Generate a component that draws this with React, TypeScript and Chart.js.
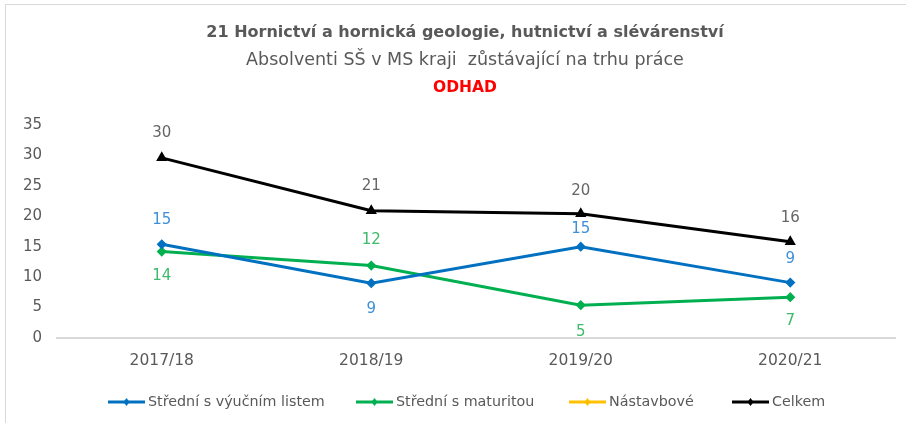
import React, { useEffect, useRef } from "react";
import { Chart, registerables } from "chart.js";

Chart.register(...registerables);

// ---- data ----
const categories = ["2017/18", "2018/19", "2019/20", "2020/21"];
const vyucni = [15.4, 9.0, 15.0, 9.1];
const maturita = [14.2, 11.9, 5.4, 6.7];
const nastavbove: (number | null)[] = [null, null, null, null];
const celkem = [29.6, 20.9, 20.4, 15.8];
const seriesNames = ["Střední s výučním listem", "Střední s maturitou", "Nástavbové", "Celkem"];
const yMin = 0;
const yMax = 35;
const yStep = 5;
const titleText = "21 Hornictví a hornická geologie, hutnictví a slévárenství";
const subtitleText = "Absolventi SŠ v MS kraji  zůstávající na trhu práce";
const noteText = "ODHAD";

// ---- styles ----
const FONT = "'DejaVu Sans', sans-serif";
const lineColors = ["#0070C0", "#00B050", "#FFC000", "#000000"];
const labelColors = ["#3F8FD8", "#3DBA6A", "#E0A800", "#666666"];
const pointStyles = ["rectRot", "rectRot", "rectRot", "triangle"];
const labelOffsets = [
  [-24, 26, -18, -24],
  [25, -25, 27, 24],
  [0, 0, 0, 0],
  [-25, -25, -23, -24],
];
const legendX = [108, 356, 569, 732];
const legendY = 402;

const labelsPlugin = {
  id: "pointLabels",
  afterDatasetsDraw(chart: any) {
    const ctx = chart.ctx;
    ctx.save();
    ctx.font = `15px ${FONT}`;
    ctx.textAlign = "center";
    ctx.textBaseline = "middle";
    chart.data.datasets.forEach((ds: any, di: number) => {
      const meta = chart.getDatasetMeta(di);
      meta.data.forEach((pt: any, i: number) => {
        const v = ds.data[i];
        if (v === null || v === undefined) return;
        ctx.fillStyle = labelColors[di];
        ctx.fillText(String(Math.round(v)), pt.x, pt.y + labelOffsets[di][i]);
      });
    });
    ctx.restore();
  },
};

const titlePlugin = {
  id: "titles",
  afterDraw(chart: any) {
    const ctx = chart.ctx;
    const cx = 465;
    ctx.save();
    ctx.textAlign = "center";
    ctx.textBaseline = "middle";
    ctx.fillStyle = "#595959";
    ctx.font = `bold 16px ${FONT}`;
    ctx.fillText(titleText, cx, 33);
    ctx.font = `17.5px ${FONT}`;
    ctx.fillText(subtitleText, cx, 60);
    ctx.fillStyle = "#FF0000";
    ctx.font = `bold 15.5px ${FONT}`;
    ctx.fillText(noteText, cx, 88);
    ctx.restore();
  },
};

const legendPlugin = {
  id: "customLegend",
  afterDraw(chart: any) {
    const ctx = chart.ctx;
    ctx.save();
    ctx.font = `14.3px ${FONT}`;
    ctx.textBaseline = "middle";
    ctx.textAlign = "left";
    seriesNames.forEach((name, i) => {
      const x = legendX[i];
      ctx.strokeStyle = lineColors[i];
      ctx.lineWidth = 3;
      ctx.beginPath();
      ctx.moveTo(x, legendY);
      ctx.lineTo(x + 37, legendY);
      ctx.stroke();
      ctx.fillStyle = lineColors[i];
      const mx = x + 18.5;
      ctx.beginPath();
      ctx.moveTo(mx, legendY - 4);
      ctx.lineTo(mx + 3, legendY);
      ctx.lineTo(mx, legendY + 4);
      ctx.lineTo(mx - 3, legendY);
      ctx.closePath();
      ctx.fill();
      ctx.fillStyle = "#595959";
      ctx.fillText(name, x + 40, legendY);
    });
    ctx.restore();
  },
};

export default function App() {
  const ref = useRef<HTMLCanvasElement | null>(null);

  useEffect(() => {
    if (!ref.current) return;
    const allData = [vyucni, maturita, nastavbove, celkem];
    const chart = new Chart(ref.current, {
      type: "line",
      data: {
        labels: categories,
        datasets: allData.map((d, i) => ({
          label: seriesNames[i],
          data: d,
          borderColor: lineColors[i],
          backgroundColor: lineColors[i],
          pointBackgroundColor: lineColors[i],
          pointBorderColor: lineColors[i],
          pointStyle: pointStyles[i] as any,
          pointRadius: i === 3 ? 3.5 : 3,
          borderWidth: 3,
          tension: 0,
          fill: false,
        })),
      },
      options: {
        animation: false,
        responsive: false,
        devicePixelRatio: 1,
        layout: { padding: { top: 125, right: 11, left: 0, bottom: 0 } },
        plugins: {
          legend: { display: false },
          title: { display: false },
          tooltip: { enabled: false },
        },
        scales: {
          x: {
            offset: true,
            grid: { display: false, drawTicks: false, offset: true },
            border: { display: true, color: "#D9D9D9", width: 2 },
            ticks: { color: "#595959", font: { family: FONT, size: 15.5 }, padding: 14 },
            afterFit: (s: any) => {
              s.height = 85;
            },
          },
          y: {
            min: yMin,
            max: yMax,
            grid: { display: false, drawTicks: false },
            border: { display: false },
            ticks: { stepSize: yStep, color: "#595959", font: { family: FONT, size: 15 }, padding: 15 },
            afterFit: (s: any) => {
              s.width = 57;
            },
          },
        },
      },
      plugins: [labelsPlugin, titlePlugin, legendPlugin],
    });
    return () => chart.destroy();
  }, []);

  return (
    <div style={{ position: "fixed", left: 0, top: 0, width: 906, height: 423, background: "#fff" }}>
      <div
        style={{
          position: "absolute",
          left: 5,
          top: 4,
          width: 901,
          height: 419,
          borderTop: "1px solid #D9D9D9",
          borderLeft: "1px solid #D9D9D9",
          boxSizing: "border-box",
        }}
      />
      <canvas ref={ref} width={906} height={423} style={{ position: "absolute", left: 0, top: 0 }} />
    </div>
  );
}
